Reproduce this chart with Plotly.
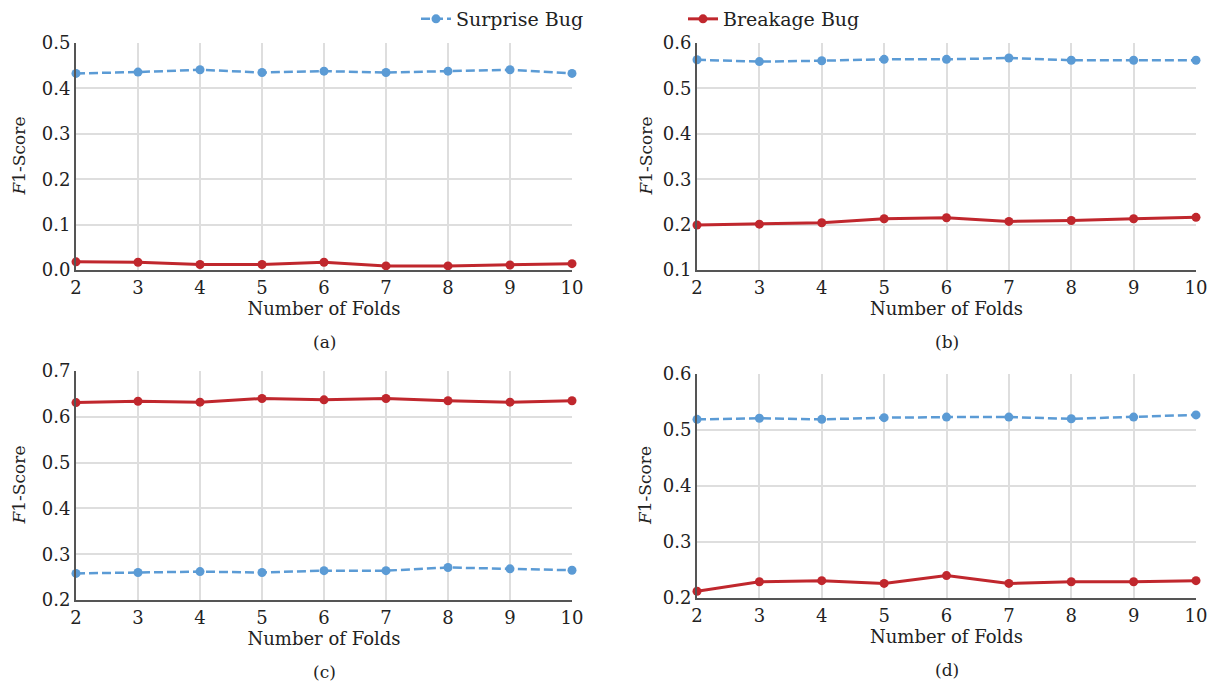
import plotly.graph_objects as go

folds = [2, 3, 4, 5, 6, 7, 8, 9, 10]

surprise_a = [0.433, 0.436, 0.441, 0.435, 0.438, 0.435, 0.438, 0.441, 0.433]
breakage_a = [0.018, 0.017, 0.012, 0.012, 0.017, 0.009, 0.009, 0.011, 0.014]

surprise_b = [0.563, 0.559, 0.561, 0.564, 0.564, 0.567, 0.562, 0.562, 0.562]
breakage_b = [0.199, 0.201, 0.204, 0.213, 0.215, 0.207, 0.209, 0.213, 0.216]

surprise_c = [0.258, 0.260, 0.262, 0.260, 0.264, 0.264, 0.271, 0.268, 0.265]
breakage_c = [0.631, 0.634, 0.632, 0.640, 0.637, 0.640, 0.635, 0.632, 0.635]

surprise_d = [0.519, 0.521, 0.519, 0.522, 0.523, 0.523, 0.520, 0.523, 0.527]
breakage_d = [0.212, 0.229, 0.231, 0.226, 0.240, 0.226, 0.229, 0.229, 0.231]

panels = [
    ("(a)", surprise_a, breakage_a, [0.0, 0.5], [0.0, 0.1, 0.2, 0.3, 0.4, 0.5], ["0.0", "0.1", "0.2", "0.3", "0.4", "0.5"]),
    ("(b)", surprise_b, breakage_b, [0.1, 0.6], [0.1, 0.2, 0.3, 0.4, 0.5, 0.6], ["0.1", "0.2", "0.3", "0.4", "0.5", "0.6"]),
    ("(c)", surprise_c, breakage_c, [0.2, 0.7], [0.2, 0.3, 0.4, 0.5, 0.6, 0.7], ["0.2", "0.3", "0.4", "0.5", "0.6", "0.7"]),
    ("(d)", surprise_d, breakage_d, [0.2, 0.6], [0.2, 0.3, 0.4, 0.5, 0.6], ["0.2", "0.3", "0.4", "0.5", "0.6"]),
]

OFF = 8  # page body margin
W, H = 1224 - OFF, 684 - OFF
# target pixel boxes in the screenshot: (left, right, top, bottom)
boxes = [(76, 572, 43, 270), (697, 1196, 43, 270), (76, 572, 371, 600), (697, 1196, 374, 598)]
ytitle_x = [18, 645, 18, 645]


def px_x(v):
    return (v - OFF) / W


def px_y(v):
    return 1 - (v - OFF) / H


BLUE = "#5b9bd5"
RED = "#c0272d"
FONT = "DejaVu Serif"
TXT = "#222"

fig = go.Figure()
layout = dict(
    width=W, height=H,
    margin=dict(l=0, r=0, t=0, b=0, autoexpand=False),
    paper_bgcolor="white", plot_bgcolor="white",
    font=dict(family=FONT, size=17, color=TXT),
    showlegend=True,
    legend=dict(orientation="h", x=px_x(416), xanchor="left", y=px_y(0), yanchor="top",
                bgcolor="rgba(0,0,0,0)",
                font=dict(family=FONT, size=19, color=TXT),
                entrywidthmode="pixels", entrywidth=222, tracegroupgap=0),
)
annotations = []
for i, (lab, s, b, yr, tv, tt) in enumerate(panels):
    n = "" if i == 0 else str(i + 1)
    l, r, t, bt = boxes[i]
    xd = [px_x(l), px_x(r)]
    yd = [px_y(bt), px_y(t)]
    fig.add_trace(go.Scatter(x=folds, y=s, mode="lines+markers", name="Surprise Bug",
                             line=dict(color=BLUE, width=2.5, dash="9px,4px"),
                             marker=dict(size=9, color=BLUE),
                             xaxis="x" + n, yaxis="y" + n, showlegend=(i == 0), cliponaxis=False))
    fig.add_trace(go.Scatter(x=folds, y=b, mode="lines+markers", name="Breakage Bug",
                             line=dict(color=RED, width=3),
                             marker=dict(size=9, color=RED),
                             xaxis="x" + n, yaxis="y" + n, showlegend=(i == 0), cliponaxis=False))
    layout["xaxis" + n] = dict(domain=xd, range=[2, 10], tickvals=folds, anchor="y" + n,
                               showgrid=True, gridcolor="#dedede", gridwidth=1.5,
                               showline=True, linecolor="#555", linewidth=2,
                               zeroline=False, ticks="", tickfont=dict(size=18),
                               title=dict(text="Number of Folds", standoff=5, font=dict(size=18)))
    layout["yaxis" + n] = dict(domain=yd, range=yr, tickvals=tv, ticktext=tt, anchor="x" + n,
                               showgrid=True, gridcolor="#dedede", gridwidth=1.5,
                               showline=True, linecolor="#555", linewidth=2,
                               zeroline=False, ticks="", tickfont=dict(size=18))
    annotations.append(dict(text="<i>F</i>1-Score", x=px_x(ytitle_x[i]), xref="paper",
                            y=(yd[0] + yd[1]) / 2, yref="paper", showarrow=False, textangle=-90,
                            font=dict(size=17), xanchor="center", yanchor="middle"))
    annotations.append(dict(text=lab, x=(xd[0] + xd[1]) / 2, xref="paper",
                            y=px_y(bt + 72), yref="paper", showarrow=False,
                            font=dict(size=17), xanchor="center", yanchor="middle"))
layout["annotations"] = annotations
fig.update_layout(**layout)
fig.write_html("out.html")
